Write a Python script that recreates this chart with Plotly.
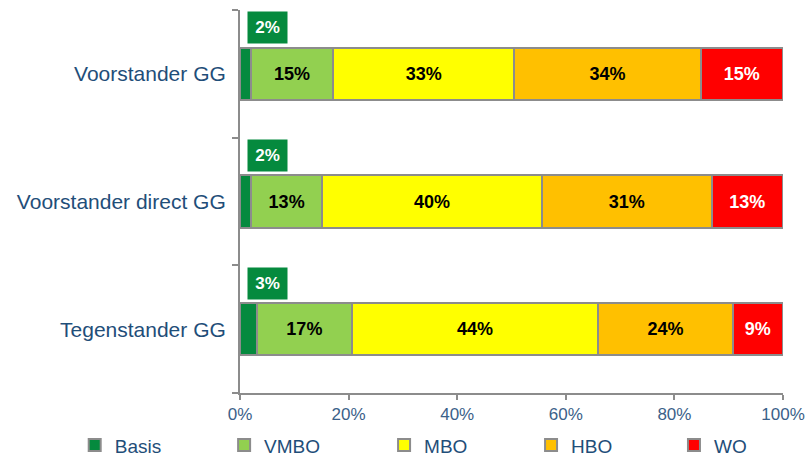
import plotly.graph_objects as go

# Opleidingsniveau per groep (procenten, afgerond)
groepen = ["Voorstander GG", "Voorstander direct GG", "Tegenstander GG"]
niveaus = ["Basis", "VMBO", "MBO", "HBO", "WO"]
basis = [2, 2, 3]
vmbo = [15, 13, 17]
mbo = [33, 40, 44]
hbo = [34, 31, 24]
wo = [15, 13, 9]
tick_waarden = [0, 20, 40, 60, 80, 100]
tick_labels = ["0%", "20%", "40%", "60%", "80%", "100%"]

reeksen = [basis, vmbo, mbo, hbo, wo]
kleuren = ["#058A3E", "#92D050", "#FFFF00", "#FFC000", "#FF0000"]
tekstkleuren = ["white", "black", "black", "black", "white"]
lettertype = "Liberation Sans, Arial, sans-serif"

# Horizontale plaats van elk legenda-item (fractie van de paginabreedte)
legenda_x = [0.092, 0.276, 0.473, 0.654, 0.830]
legenda_namen = ["legend", "legend2", "legend3", "legend4", "legend5"]

fig = go.Figure()
for naam, waarden, kleur, tkleur, lg in zip(niveaus, reeksen, kleuren, tekstkleuren, legenda_namen):
    toon_tekst = naam != "Basis"
    fig.add_trace(go.Bar(
        name=naam,
        y=groepen,
        x=waarden,
        orientation="h",
        legend=lg,
        marker=dict(color=kleur, line=dict(color="#8C8C8C", width=2)),
        text=[f"{v}%" for v in waarden] if toon_tekst else None,
        textposition="inside" if toon_tekst else "none",
        insidetextanchor="middle",
        textangle=0,
        textfont=dict(family=lettertype, size=18, color=tkleur, weight="bold"),
        hoverinfo="skip",
    ))

# Label voor het kleine Basis-segment, boven de balk
for groep, v in zip(groepen, basis):
    fig.add_annotation(
        x=0, y=groep, xref="x", yref="y",
        text=f"<b>{v}%</b>",
        showarrow=False,
        xanchor="left", yanchor="middle",
        xshift=7, yshift=46,
        bgcolor="#058A3E",
        borderpad=6,
        width=27,
        font=dict(family=lettertype, size=17, color="white"),
    )

legenda_stijl = dict(
    orientation="h",
    xref="container", yref="container",
    xanchor="left",
    y=0.03, yanchor="middle",
    itemwidth=30,
    bgcolor="rgba(0,0,0,0)",
    font=dict(family=lettertype, size=19, color="#1F4E79"),
)
legendas = {lg: dict(legenda_stijl, x=lx) for lg, lx in zip(legenda_namen, legenda_x)}

fig.update_layout(
    barmode="stack",
    barnorm="percent",
    bargap=0.59,
    width=812, height=459,
    margin=dict(l=240, r=29, t=10, b=66, autoexpand=False),
    paper_bgcolor="white",
    plot_bgcolor="white",
    font=dict(family=lettertype, color="#1F4E79"),
    showlegend=True,
    xaxis=dict(
        range=[0, 100],
        tickvals=tick_waarden,
        ticktext=tick_labels,
        showgrid=False,
        zeroline=False,
        showline=True,
        linecolor="#8C8C8C",
        linewidth=2,
        ticks="outside",
        ticklen=5,
        tickwidth=1.5,
        tickcolor="#8C8C8C",
        tickfont=dict(family=lettertype, size=17, color="#3B6189"),
    ),
    yaxis=dict(
        categoryorder="array",
        categoryarray=groepen[::-1],
        showgrid=False,
        showline=True,
        linecolor="#8C8C8C",
        linewidth=2,
        ticks="outside",
        tickson="boundaries",
        ticklen=6,
        tickwidth=1.5,
        tickcolor="#8C8C8C",
        ticklabelstandoff=8,
        tickfont=dict(family=lettertype, size=21, color="#1F4E79"),
    ),
    **legendas,
)

fig.write_html("out.html")
